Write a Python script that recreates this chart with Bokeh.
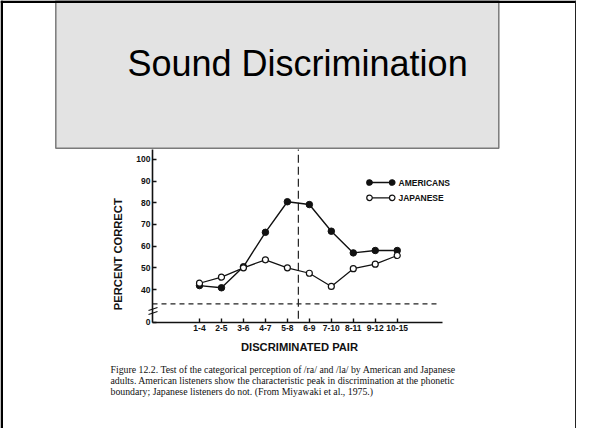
import math
from bokeh.plotting import figure
from bokeh.models import Range1d, LinearAxis, FixedTicker
from bokeh.core.properties import value
from bokeh.embed import file_html
from bokeh.resources import INLINE

# ---- data -------------------------------------------------------------
pairs = ["1-4", "2-5", "3-6", "4-7", "5-8", "6-9", "7-10", "8-11", "9-12", "10-15"]
americans = [41.8, 40.8, 50.5, 66.4, 80.5, 79.2, 66.9, 56.9, 58.0, 58.0]
japanese = [42.9, 45.7, 50.0, 53.7, 50.0, 47.5, 41.4, 49.6, 51.7, 55.7]
y_ticks = [25, 40, 50, 60, 70, 80, 90, 100]
y_tick_labels = ["0", "40", "50", "60", "70", "80", "90", "100"]
chance_level = 33.4          # dashed horizontal reference line
boundary_position = 4.5      # phonetic boundary (between 5-8 and 6-9)
series_names = ["AMERICANS", "JAPANESE"]

title_text = "Sound Discrimination"
caption_lines = [
    "Figure 12.2. Test of the categorical perception of /ra/ and /la/ by American and Japanese",
    "adults. American listeners show the characteristic peak in discrimination at the phonetic",
    "boundary; Japanese listeners do not. (From Miyawaki et al., 1975.)",
]

xs = list(range(len(pairs)))
SANS = "Liberation Sans"
SERIF = "Liberation Serif"

W, H = 576, 428
p = figure(width=W, height=H, output_backend="svg", toolbar_location=None,
           x_range=Range1d(-9.058, 17.16), y_range=Range1d(-24.15, 173.38),
           x_axis_type=None, y_axis_type=None, min_border=0,
           outline_line_color=None, background_fill_color="white",
           border_fill_color="white")
# pixel-like range for slide decoration (screen coordinates, y downwards)
p.extra_x_ranges["px"] = Range1d(0, W)
p.extra_y_ranges["px"] = Range1d(H, 0)
PX = dict(x_range_name="px", y_range_name="px")

# ---- slide decoration -------------------------------------------------
p.quad(left=55.3, right=498.3, top=0, bottom=147.7, fill_color="#e3e3e3",
       line_color="#7a7a7a", line_width=1.5, **PX)
p.text(x=[127], y=[63.3], text=[title_text], text_font=value(SANS),
       text_font_size="36px", text_color="black", text_baseline="alphabetic",
       text_align="left", **PX)
p.quad(left=0, right=2.5, top=0, bottom=H, fill_color="black", line_color=None, **PX)
p.quad(left=0, right=W, top=0, bottom=2.5, fill_color="black", line_color=None, **PX)
p.quad(left=W - 1.5, right=W, top=0, bottom=H, fill_color="#222222", line_color=None, **PX)

# ---- axes -------------------------------------------------------------
xaxis = LinearAxis(ticker=FixedTicker(ticks=xs),
                   major_label_overrides={i: s for i, s in zip(xs, pairs)},
                   fixed_location=y_ticks[0], bounds=(-2.14, 11.06))
yaxis = LinearAxis(ticker=FixedTicker(ticks=y_ticks),
                   major_label_overrides={t: s for t, s in zip(y_ticks, y_tick_labels)},
                   fixed_location=-2.14, bounds=(y_ticks[0], 104.6))
for ax in (xaxis, yaxis):
    ax.axis_line_color = "#111111"
    ax.axis_line_width = 1.6
    ax.major_tick_line_color = "#111111"
    ax.major_tick_line_width = 1.4
    ax.major_tick_in = 4
    ax.major_tick_out = 0
    ax.minor_tick_line_color = None
    ax.major_label_text_font = SANS
    ax.major_label_text_font_size = "8.5px"
    ax.major_label_text_font_style = "bold"
    ax.major_label_text_color = "#111111"
xaxis.major_label_standoff = 3
yaxis.major_label_standoff = 2
p.add_layout(xaxis, "below")
p.add_layout(yaxis, "left")

# axis titles
p.text(x=[299], y=[346], text=["DISCRIMINATED PAIR"], text_font=value(SANS),
       text_font_size="11.2px", text_font_style="bold", text_color="#111111",
       text_align="center", text_baseline="middle", **PX)
p.text(x=[117.5], y=[253.7], text=["PERCENT CORRECT"], text_font=value(SANS),
       text_font_size="11.2px", text_font_style="bold", text_color="#111111",
       text_align="center", text_baseline="middle", angle=math.pi / 2, **PX)

# axis break marks
p.segment(x0=[148, 148], y0=[310, 314], x1=[157, 157], y1=[307, 311],
          line_color="#111111", line_width=1.3, **PX)

# ---- reference lines --------------------------------------------------
p.segment(x0=[-2.14], y0=[chance_level], x1=[10.79], y1=[chance_level],
          line_color="#222222", line_width=1.2, line_dash="5 4")
p.segment(x0=[boundary_position], y0=[y_ticks[0] + 1.5], x1=[boundary_position], y1=[104.6],
          line_color="#222222", line_width=1.2, line_dash="8 4")

# ---- data series ------------------------------------------------------
p.line(xs, americans, line_color="#111111", line_width=1.4)
p.scatter(xs, americans, size=6.5, fill_color="#111111", line_color="#111111")
p.line(xs, japanese, line_color="#111111", line_width=1.2)
p.scatter(xs, japanese, size=6, fill_color="white", line_color="#111111", line_width=1.2)

# ---- legend (slide style: markers at both ends of the sample line) ------
leg_y = [182, 197.3]
for name, yy, fill in zip(series_names, leg_y, ["#111111", "white"]):
    p.line([369, 391.7], [yy, yy], line_color="#111111", line_width=1.3, **PX)
    p.scatter([369, 391.7], [yy, yy], size=5.5, fill_color=fill,
              line_color="#111111", line_width=1.2, **PX)
    p.text(x=[398], y=[yy], text=[name], text_font=value(SANS), text_font_size="8.5px",
           text_font_style="bold", text_color="#111111", text_baseline="middle", **PX)

# ---- caption ----------------------------------------------------------
p.text(x=[110] * len(caption_lines), y=[369, 380, 390.7], text=caption_lines,
       text_font=value(SERIF), text_font_size="9.8px", text_color="#111111",
       text_baseline="middle", text_align="left", **PX)

open("out.html", "w").write(file_html(p, INLINE))
